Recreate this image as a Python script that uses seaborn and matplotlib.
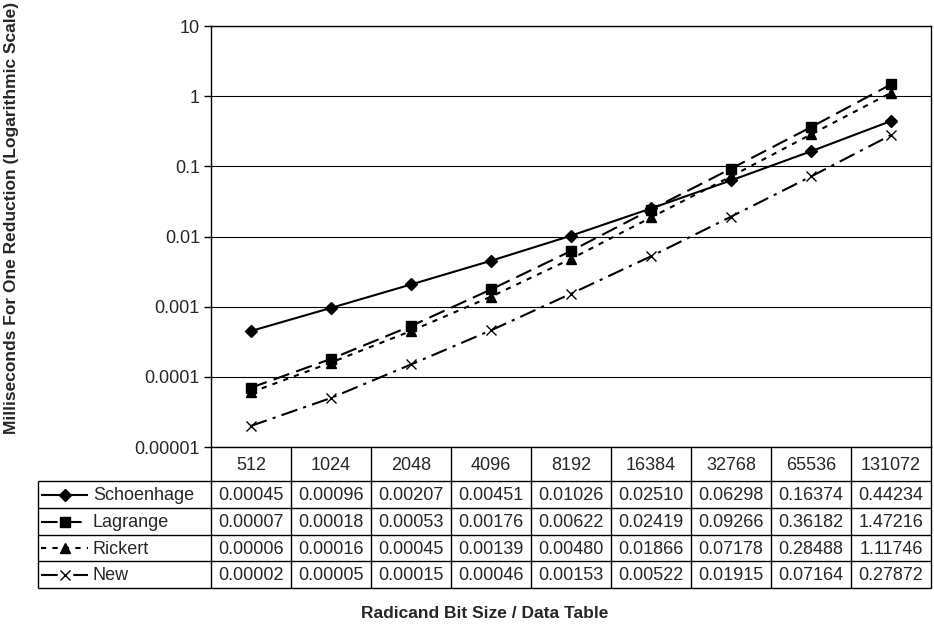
import numpy as np
import pandas as pd
import matplotlib
matplotlib.use("Agg")
import matplotlib.pyplot as plt
import seaborn as sns

# ---------------- data ----------------
bit_sizes = ["512", "1024", "2048", "4096", "8192", "16384", "32768", "65536", "131072"]
methods = ["Schoenhage", "Lagrange", "Rickert", "New"]
schoenhage = [0.00045, 0.00096, 0.00207, 0.00451, 0.01026, 0.02510, 0.06298, 0.16374, 0.44234]
lagrange = [0.00007, 0.00018, 0.00053, 0.00176, 0.00622, 0.02419, 0.09266, 0.36182, 1.47216]
rickert = [0.00006, 0.00016, 0.00045, 0.00139, 0.00480, 0.01866, 0.07178, 0.28488, 1.11746]
new = [0.00002, 0.00005, 0.00015, 0.00046, 0.00153, 0.00522, 0.01915, 0.07164, 0.27872]
y_ticks = [1e-5, 1e-4, 1e-3, 1e-2, 1e-1, 1, 10]
y_tick_labels = ["0.00001", "0.0001", "0.001", "0.01", "0.1", "1", "10"]

series = dict(zip(methods, [schoenhage, lagrange, rickert, new]))
df = pd.DataFrame(
    [(m, i, v) for m in methods for i, v in enumerate(series[m])],
    columns=["method", "pos", "ms"],
)

# ---------------- styles ----------------
sns.set_style("white")
plt.rcParams["font.family"] = ["Liberation Sans", "DejaVu Sans"]

marker_map = {"Schoenhage": "D", "Lagrange": "s", "Rickert": "^", "New": "x"}
dash_map = {"Schoenhage": (1, 0), "Lagrange": (8, 3.5), "Rickert": (2.5, 3), "New": (8, 3, 1.5, 3)}
msize = {"Schoenhage": 6.5, "Lagrange": 7.5, "Rickert": 7.5, "New": 7}

W, H = 934, 628
fig = plt.figure(figsize=(W / 100, H / 100), dpi=100)

# overlay axes in pixel coordinates for the data table
ov = fig.add_axes([0, 0, 1, 1])
ov.set_xlim(0, W)
ov.set_ylim(H, 0)
ov.axis("off")
ov.patch.set_visible(False)

x_left_tab, x_ax, x_right = 38, 211, 931
y_top, y_bot = 26, 447
ax = fig.add_axes([x_ax / W, 1 - y_bot / H, (x_right - x_ax) / W, (y_bot - y_top) / H])

for m in methods:
    sns.lineplot(
        data=df[df.method == m], x="pos", y="ms", color="black",
        marker=marker_map[m], markersize=msize[m], linewidth=1.5,
        markeredgecolor="black", markeredgewidth=1.0,
        dashes=dash_map[m], ax=ax, legend=False,
    )

ax.set_yscale("log")
ax.set_ylim(1e-5, 10)
ax.set_xlim(-0.5, len(bit_sizes) - 0.5)
ax.set_yticks(y_ticks)
ax.set_yticklabels(y_tick_labels, fontsize=13)
ax.minorticks_off()
ax.set_xticks([])
ax.set_xlabel("")
ax.set_ylabel("")
ax.tick_params(axis="y", direction="out", length=5, width=1, color="black", pad=3, left=True)
ax.grid(axis="y", color="black", linewidth=0.8)
for s in ["left", "right", "top", "bottom"]:
    ax.spines[s].set_visible(True)
    ax.spines[s].set_color("black")
    ax.spines[s].set_linewidth(1.0)

# ---------------- data table ----------------
n = len(bit_sizes)
cw = (x_right - x_ax) / n
row_edges = [481, 508, 535, 561, 588]
lc = "black"
ov.hlines(row_edges, x_left_tab, x_right, color=lc, lw=1.0)
ov.vlines(x_left_tab, row_edges[0], row_edges[-1], color=lc, lw=1.0)
ov.vlines([x_ax + cw * k for k in range(n + 1)], y_bot, row_edges[-1], color=lc, lw=1.0)

for i, lab in enumerate(bit_sizes):
    ov.text(x_ax + cw * (i + 0.5), (y_bot + row_edges[0]) / 2 + 1, lab,
            ha="center", va="center", fontsize=13)

for r, m in enumerate(methods):
    yc = (row_edges[r] + row_edges[r + 1]) / 2 + 1
    for i, v in enumerate(series[m]):
        ov.text(x_ax + cw * (i + 0.5), yc, f"{v:.5f}", ha="center", va="center", fontsize=13)
    # legend sample
    ln, = ov.plot([41, 88], [yc - 1, yc - 1], color="black", lw=1.5)
    ln.set_dashes(dash_map[m])
    ov.plot([64.5], [yc - 1], marker=marker_map[m], ms=msize[m], color="black",
            mec="black", mew=1.0, ls="none")
    ov.text(93, yc, m, ha="left", va="center", fontsize=13)

fig.text(12 / W, 1 - 218 / H, "Milliseconds For One Reduction (Logarithmic Scale)",
         rotation=90, ha="center", va="center", fontsize=12.5, fontweight="bold")
fig.text(485 / W, 1 - 613 / H, "Radicand Bit Size / Data Table",
         ha="center", va="center", fontsize=12.5, fontweight="bold")

fig.savefig("out.png", dpi=100)
